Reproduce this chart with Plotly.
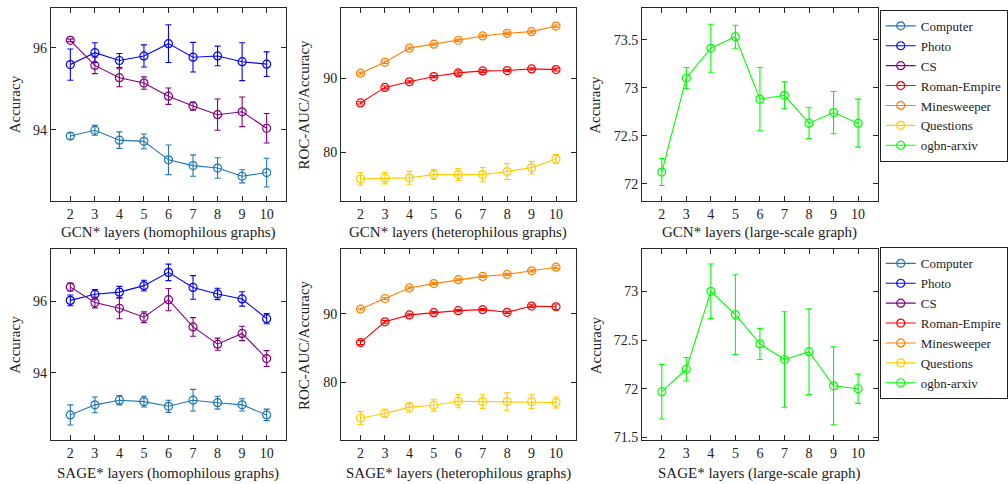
import plotly.graph_objects as go

layers = [2, 3, 4, 5, 6, 7, 8, 9, 10]

# ---- GCN* homophilous graphs ----
gcn_computer = [93.85, 93.99, 93.75, 93.72, 93.27, 93.13, 93.07, 92.87, 92.96]
gcn_computer_err = [0.08, 0.12, 0.20, 0.18, 0.36, 0.26, 0.25, 0.16, 0.35]
gcn_photo = [95.59, 95.88, 95.69, 95.80, 96.10, 95.77, 95.80, 95.66, 95.60]
gcn_photo_err = [0.38, 0.24, 0.17, 0.27, 0.46, 0.36, 0.24, 0.46, 0.30]
gcn_cs = [96.18, 95.57, 95.27, 95.14, 94.82, 94.58, 94.37, 94.44, 94.04]
gcn_cs_err = [0.03, 0.20, 0.22, 0.15, 0.20, 0.10, 0.38, 0.36, 0.36]

# ---- GCN* heterophilous graphs ----
gcn_roman = [86.65, 88.75, 89.51, 90.22, 90.71, 90.98, 91.03, 91.25, 91.16]
gcn_roman_err = [0.15, 0.20, 0.15, 0.15, 0.30, 0.20, 0.15, 0.15, 0.20]
gcn_mines = [90.67, 92.14, 94.06, 94.60, 95.13, 95.71, 96.07, 96.29, 97.05]
gcn_mines_err = [0.15, 0.15, 0.15, 0.15, 0.15, 0.15, 0.15, 0.20, 0.15]
gcn_questions = [76.38, 76.47, 76.52, 76.96, 76.96, 76.96, 77.37, 77.90, 79.06]
gcn_questions_err = [0.87, 0.76, 0.87, 0.67, 0.80, 0.96, 1.07, 0.85, 0.60]

# ---- GCN* large-scale graph ----
gcn_arxiv = [72.12, 73.10, 73.41, 73.53, 72.88, 72.92, 72.63, 72.74, 72.63]
gcn_arxiv_err = [0.14, 0.11, 0.25, 0.12, 0.33, 0.14, 0.16, 0.22, 0.25]

# ---- SAGE* homophilous graphs ----
sage_computer = [92.83, 93.11, 93.24, 93.20, 93.07, 93.24, 93.17, 93.11, 92.83]
sage_computer_err = [0.28, 0.22, 0.13, 0.15, 0.17, 0.30, 0.18, 0.17, 0.16]
sage_photo = [96.02, 96.19, 96.25, 96.43, 96.80, 96.38, 96.20, 96.06, 95.51]
sage_photo_err = [0.15, 0.13, 0.16, 0.15, 0.23, 0.33, 0.16, 0.20, 0.14]
sage_cs = [96.39, 95.96, 95.80, 95.55, 96.04, 95.28, 94.80, 95.10, 94.40]
sage_cs_err = [0.11, 0.15, 0.29, 0.15, 0.31, 0.26, 0.17, 0.20, 0.22]

# ---- SAGE* heterophilous graphs ----
sage_roman = [85.77, 88.80, 89.81, 90.14, 90.43, 90.58, 90.19, 91.10, 91.00]
sage_roman_err = [0.30, 0.20, 0.15, 0.15, 0.15, 0.15, 0.15, 0.20, 0.40]
sage_mines = [90.67, 92.21, 93.75, 94.38, 94.95, 95.43, 95.72, 96.25, 96.78]
sage_mines_err = [0.15, 0.15, 0.15, 0.15, 0.15, 0.15, 0.15, 0.15, 0.20]
sage_questions = [74.76, 75.43, 76.35, 76.63, 77.21, 77.16, 77.16, 77.16, 77.02]
sage_questions_err = [0.96, 0.60, 0.72, 0.87, 0.96, 1.00, 1.27, 1.00, 0.80]

# ---- SAGE* large-scale graph ----
sage_arxiv = [71.97, 72.20, 73.00, 72.76, 72.46, 72.30, 72.38, 72.03, 72.00]
sage_arxiv_err = [0.28, 0.12, 0.28, 0.41, 0.16, 0.49, 0.44, 0.40, 0.15]

names = ["Computer", "Photo", "CS", "Roman-Empire", "Minesweeper", "Questions", "ogbn-arxiv"]
colors = {
    "Computer": "#1f77b4",
    "Photo": "#0000ff",
    "CS": "#800080",
    "Roman-Empire": "#ff0000",
    "Minesweeper": "#ff8000",
    "Questions": "#ffcc00",
    "ogbn-arxiv": "#00ff00",
}

FONT = "Liberation Serif"
fig = go.Figure()


def add(name, y, err, xa, ya, legend):
    c = colors[name]
    fig.add_trace(go.Scatter(
        x=layers, y=y, name=name, mode="lines+markers",
        xaxis=xa, yaxis=ya, legend=legend,
        line=dict(color=c, width=1.1),
        marker=dict(symbol="circle-open", size=8, color=c, line=dict(width=1.2, color=c)),
        error_y=dict(type="data", array=err, visible=True, thickness=1.1, width=3, color=c),
    ))


# row 1
add("Computer", gcn_computer, gcn_computer_err, "x", "y", "legend")
add("Photo", gcn_photo, gcn_photo_err, "x", "y", "legend")
add("CS", gcn_cs, gcn_cs_err, "x", "y", "legend")
add("Roman-Empire", gcn_roman, gcn_roman_err, "x2", "y2", "legend")
add("Minesweeper", gcn_mines, gcn_mines_err, "x2", "y2", "legend")
add("Questions", gcn_questions, gcn_questions_err, "x2", "y2", "legend")
add("ogbn-arxiv", gcn_arxiv, gcn_arxiv_err, "x3", "y3", "legend")
# row 2
add("Computer", sage_computer, sage_computer_err, "x4", "y4", "legend2")
add("Photo", sage_photo, sage_photo_err, "x4", "y4", "legend2")
add("CS", sage_cs, sage_cs_err, "x4", "y4", "legend2")
add("Roman-Empire", sage_roman, sage_roman_err, "x5", "y5", "legend2")
add("Minesweeper", sage_mines, sage_mines_err, "x5", "y5", "legend2")
add("Questions", sage_questions, sage_questions_err, "x5", "y5", "legend2")
add("ogbn-arxiv", sage_arxiv, sage_arxiv_err, "x6", "y6", "legend2")

W, H = 1008, 484
cols = [(51, 288), (343, 579), (646, 883)]
rows = [(8, 203), (252, 445)]

def xd(c):
    return [c[0] / W, c[1] / W]

def yd(r):
    return [1 - r[1] / H, 1 - r[0] / H]

base = dict(showline=True, linecolor="#262626", linewidth=1, mirror="ticks",
            ticks="inside", ticklen=5, tickcolor="#262626", tickwidth=1,
            showgrid=False, zeroline=False,
            tickfont=dict(family=FONT, size=14, color="#222"))

yranges = [[92.27, 96.97], [73.4, 99.5], [71.82, 73.83],
           [92.12, 97.44], [71.49, 99.375], [71.47, 73.43]]
ytickvals = [[94, 96], [80, 90], [72, 72.5, 73, 73.5],
             [94, 96], [80, 90], [71.5, 72, 72.5, 73]]
yticktext = [["94", "96"], ["80", "90"], ["72", "72.5", "73", "73.5"],
             ["94", "96"], ["80", "90"], ["71.5", "72", "72.5", "73"]]

layout = dict(
    width=W, height=H, margin=dict(l=0, r=0, t=0, b=0),
    paper_bgcolor="white", plot_bgcolor="white",
    font=dict(family=FONT, size=14, color="#222"),
)
for i in range(6):
    r, c = divmod(i, 3)
    sfx = "" if i == 0 else str(i + 1)
    layout["xaxis" + sfx] = dict(base, domain=xd(cols[c]), anchor="y" + sfx,
                                 range=[1.2, 10.8], tickvals=layers)
    layout["yaxis" + sfx] = dict(base, domain=yd(rows[r]), anchor="x" + sfx,
                                 range=yranges[i], tickvals=ytickvals[i], ticktext=yticktext[i])

leg = dict(x=885 / W, xanchor="left", yanchor="top", bgcolor="white",
           bordercolor="#222", borderwidth=1,
           font=dict(family=FONT, size=13, color="#222"), itemwidth=30,
           tracegroupgap=0)
layout["legend"] = dict(leg, y=1 - 10 / H)
layout["legend2"] = dict(leg, y=1 - 250 / H)

xtitles = ["GCN* layers (homophilous graphs)", "GCN* layers (heterophilous graphs)",
           "GCN* layers (large-scale graph)", "SAGE* layers (homophilous graphs)",
           "SAGE* layers (heterophilous graphs)", "SAGE* layers (large-scale graph)"]
ytitles = ["Accuracy", "ROC-AUC/Accuracy", "Accuracy"] * 2
ytitle_x = [15, 306, 599]
xtitle_y = [235, 478]
ann = []
for i in range(6):
    r, c = divmod(i, 3)
    ann.append(dict(text=xtitles[i], xref="paper", yref="paper",
                    x=(cols[c][0] + cols[c][1]) / 2 / W, y=1 - xtitle_y[r] / H,
                    xanchor="center", yanchor="middle", showarrow=False,
                    font=dict(family=FONT, size=15, color="#222")))
    ann.append(dict(text=ytitles[i], xref="paper", yref="paper",
                    x=ytitle_x[c] / W, y=1 - (rows[r][0] + rows[r][1]) / 2 / H,
                    xanchor="center", yanchor="middle", showarrow=False, textangle=-90,
                    font=dict(family=FONT, size=15, color="#222")))
layout["annotations"] = ann

fig.update_layout(**layout)
fig.write_html("out.html", config={"displayModeBar": False},
               post_script="document.body.style.margin='0px';")
